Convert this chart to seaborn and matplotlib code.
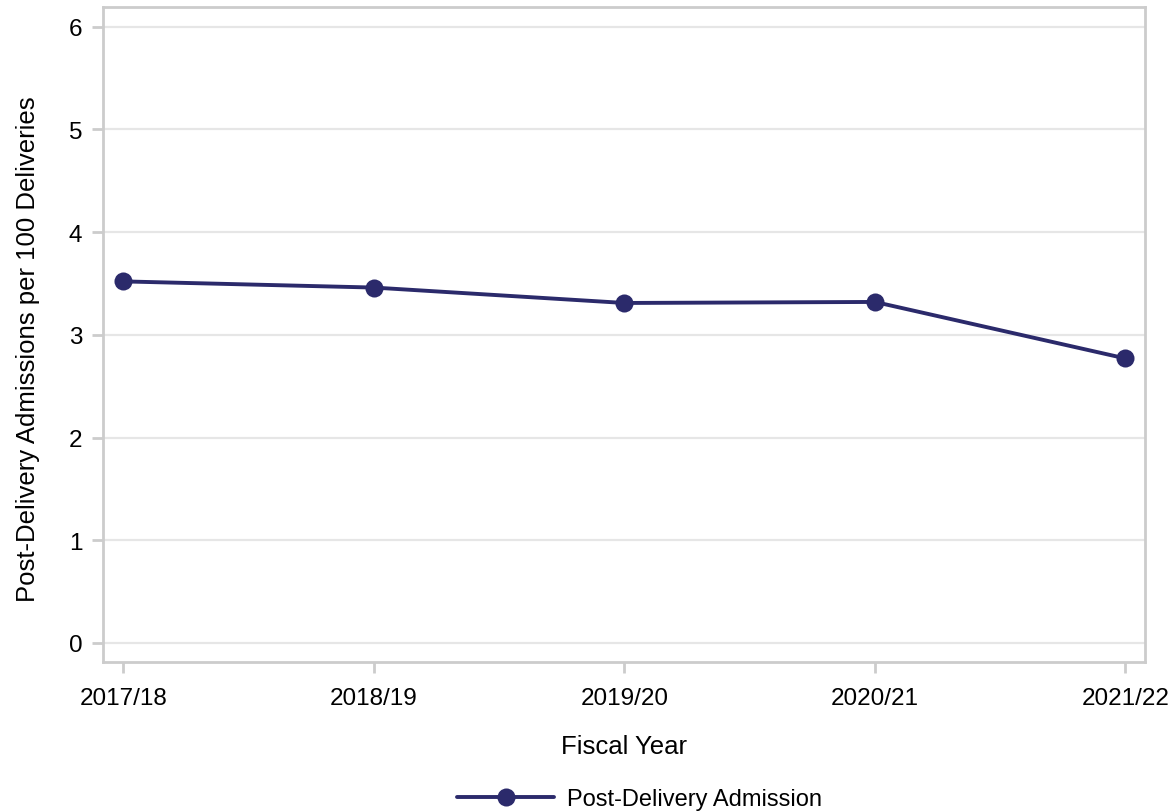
import matplotlib
matplotlib.use("Agg")
import matplotlib.pyplot as plt
import seaborn as sns
import pandas as pd

years = ["2017/18", "2018/19", "2019/20", "2020/21", "2021/22"]
rates = [3.52, 3.46, 3.31, 3.32, 2.77]
series_name = "Post-Delivery Admission"
y_ticks = [0, 1, 2, 3, 4, 5, 6]

sns.set_theme(style="white")
plt.rcParams['font.family'] = ['Liberation Sans', 'DejaVu Sans']
plt.rcParams['text.color'] = 'black'
plt.rcParams['axes.labelcolor'] = 'black'

df = pd.DataFrame({"Fiscal Year": years, "Rate": rates, "Series": series_name})
df["x"] = range(len(years))

fig = plt.figure(figsize=(11.74, 8.12), dpi=100)
ax = fig.add_axes([0.0877, 0.1835, 0.888, 0.8065])

color = "#2b2a6b"
sns.lineplot(data=df, x="x", y="Rate", hue="Series", palette=[color],
             marker="o", markersize=13, linewidth=2.8, markeredgewidth=0,
             ax=ax, legend=True, zorder=3)

ax.set_xlim(-0.081, 4.08)
ax.set_ylim(-0.185, 6.19)
ax.set_xticks(range(len(years)))
ax.set_xticklabels(years)
ax.set_yticks(y_ticks)
ax.set_yticklabels([str(t) for t in y_ticks])

ax.grid(axis="y", color="#e6e6e6", linewidth=1.6, zorder=0)
ax.grid(axis="x", visible=False)
for s in ax.spines.values():
    s.set_color("#cccccc")
    s.set_linewidth(2)

ax.tick_params(axis="both", which="major", bottom=True, left=True, length=8, width=2,
               color="#cccccc", labelsize=17.5, labelcolor="black")
ax.tick_params(axis="x", pad=10)
ax.tick_params(axis="y", pad=7)
ax.set_xlabel("Fiscal Year", fontsize=18.5, labelpad=18, color="black")
ax.set_ylabel("Post-Delivery Admissions per 100 Deliveries", fontsize=18.5,
              color="black")
ax.yaxis.set_label_coords(-0.06, 0.479)

handles, labels = ax.get_legend_handles_labels()
leg = ax.legend(handles, labels, loc="upper center", bbox_to_anchor=(0.515, -0.16),
                frameon=False, fontsize=17, handlelength=4.1, handletextpad=0.55)
for t in leg.get_texts():
    t.set_color("black")

fig.savefig("out.png", dpi=100)
